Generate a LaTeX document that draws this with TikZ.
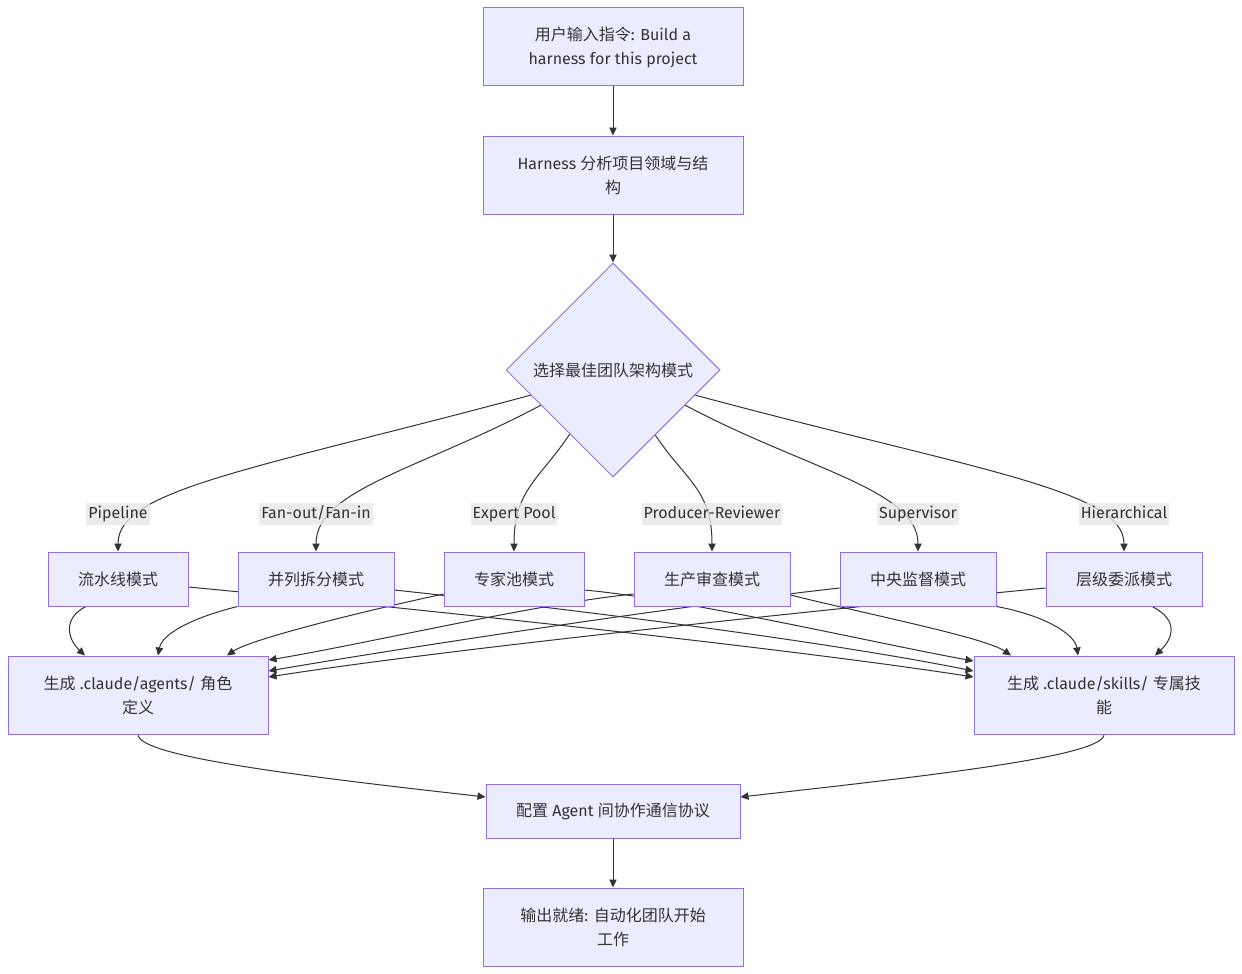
\documentclass[tikz,border=0pt]{standalone}
\usepackage{fontspec}
\setmainfont{Fira Sans}
\newfontfamily\zhfont{Noto Sans CJK SC}
\newcommand{\zh}[1]{{\zhfont #1}}
\usetikzlibrary{shapes.geometric,arrows.meta,calc}
\pgfdeclarelayer{bg}
\pgfsetlayers{bg,main}
\definecolor{nodefill}{HTML}{ECECFF}
\definecolor{nodeline}{HTML}{9370DB}
\definecolor{edgecol}{HTML}{333333}
\definecolor{lblbg}{HTML}{E8E8E8}
\begin{document}
\begin{tikzpicture}[x=0.75pt,y=-0.75pt,
  box/.style={draw=nodeline,fill=nodefill,line width=0.75pt,align=center,text=edgecol,inner sep=0pt,font=\fontsize{12pt}{18pt}\selectfont},
  wide/.style={box,minimum width=195pt,minimum height=58.5pt},
  pat/.style={box,minimum width=#1,minimum height=40.5pt},
  dec/.style={diamond,aspect=1,draw=nodeline,fill=nodefill,line width=0.75pt,minimum width=160.5pt,minimum height=160.5pt,inner sep=0pt,text=edgecol,font=\fontsize{12pt}{18pt}\selectfont},
  arr/.style={draw=edgecol,line width=0.75pt,-{Triangle[length=6pt,width=5.5pt]}},
  lbl/.style={fill=lblbg,fill opacity=0.8,text opacity=1,text=edgecol,inner xsep=1.5pt,inner ysep=2pt,text height=9pt,text depth=3pt,font=\fontsize{12pt}{14pt}\selectfont}
]
\useasboundingbox (0,0) rectangle (1242,974);
\begin{pgfonlayer}{bg}
\fill[white] (0,0) rectangle (1242,974);
\end{pgfonlayer}

% nodes
\node[wide] (n1) at (613,47) {\zh{用户输入指令}: Build a\\harness for this project};
\node[wide] (n2) at (613,175) {Harness \zh{分析项目领域与结}\\\zh{构}};
\node[dec] (dia) at (613,370) {\zh{选择最佳团队架构模式}};
\node[pat=105pt] (b1) at (118,579) {\zh{流水线模式}};
\node[pat=117pt] (b2) at (316,579) {\zh{并列拆分模式}};
\node[pat=105pt] (b3) at (514,579) {\zh{专家池模式}};
\node[pat=117pt] (b4) at (712,579) {\zh{生产审查模式}};
\node[pat=117pt] (b5) at (918,579) {\zh{中央监督模式}};
\node[pat=117pt] (b6) at (1124,579) {\zh{层级委派模式}};
\node[wide] (ag) at (138,695) {\zh{生成} .claude/agents/ \zh{角色}\\\zh{定义}};
\node[wide] (sk) at (1104,695) {\zh{生成} .claude/skills/ \zh{专属技}\\\zh{能}};
\node[box,minimum width=190.5pt,minimum height=40.5pt] (cfg) at (613,811) {\zh{配置} Agent \zh{间协作通信协议}};
\node[wide] (out) at (613,927) {\zh{输出就绪}: \zh{自动化团队开始}\\\zh{工作}};

% edges
\begin{pgfonlayer}{bg}
\draw[arr] (n1.south) -- (n2.north);
\draw[arr] (n2.south) -- (dia.north);
\draw[arr] (dia.197) .. controls +(-280,75) and +(0,-62) .. (b1.north);
\draw[arr] (dia.206) .. controls +(-120,64) and +(0,-62) .. (b2.north);
\draw[arr] (dia.236.5) .. controls +(-30,45) and +(0,-62) .. (b3.north);
\draw[arr] (dia.303.5) .. controls +(30,45) and +(0,-62) .. (b4.north);
\draw[arr] (dia.334) .. controls +(120,64) and +(0,-62) .. (b5.north);
\draw[arr] (dia.343) .. controls +(279,75) and +(0,-62) .. (b6.north);
% to agents
\draw[arr] ($(b1.south)+(-32,0)$) .. controls +(-24,12) and +(-17,-16) .. ($(ag.north)+(-53,0)$);
\draw[arr] (b2.south west) .. controls +(-48,12) and +(4,-21) .. ($(ag.north)+(20,0)$);
\draw[arr] ($(b3.west)+(0,15)$) .. controls +(-84,18) and +(23,-16) .. ($(ag.north)+(89,0)$);
\draw[arr] ($(b4.west)+(0,15)$) .. controls +(-99,10) and +(92,-15) .. ($(ag.east)+(0,-35)$);
\draw[arr] ($(b5.west)+(0,9)$) .. controls +(-160,18) and +(152,-26) .. ($(ag.east)+(0,-24)$);
\draw[arr] ($(b6.west)+(0,9)$) .. controls +(-246,24) and +(172,-27) .. ($(ag.east)+(0,-18)$);
% to skills
\draw[arr] ($(b1.east)+(0,8)$) .. controls +(262,25) and +(-174,-27) .. ($(sk.west)+(0,-18)$);
\draw[arr] ($(b2.east)+(0,11)$) .. controls +(166,18) and +(-154,-31) .. ($(sk.west)+(0,-24)$);
\draw[arr] ($(b3.east)+(0,11)$) .. controls +(106,10) and +(-104,-19) .. ($(sk.west)+(0,-34)$);
\draw[arr] ($(b4.east)+(0,16)$) .. controls +(80,20) and +(-26,-18) .. ($(sk.north)+(-93,0)$);
\draw[arr] (b5.south east) .. controls +(49,9) and +(-3,-21) .. ($(sk.north)+(-26,0)$);
\draw[arr] ($(b6.south)+(28,0)$) .. controls +(28,14) and +(17,-16) .. ($(sk.north)+(51,0)$);
% bottom
\draw[arr] (ag.south) .. controls +(0,22) and +(-186,-21) .. ($(cfg.west)+(0,-14)$);
\draw[arr] (sk.south) .. controls +(0,22) and +(186,-21) .. ($(cfg.east)+(0,-14)$);
\draw[arr] (cfg.south) -- (out.north);
\end{pgfonlayer}

% edge labels
\node[lbl] (l1) at (118,514) {Pipeline};
\node[lbl] (l2) at (316,514) {Fan-out/Fan-in};
\node[lbl] (l3) at (514,514) {Expert Pool};
\node[lbl] (l4) at (712,514) {Producer-Reviewer};
\node[lbl] (l5) at (918,514) {Supervisor};
\node[lbl] (l6) at (1124,514) {Hierarchical};
\end{tikzpicture}
\end{document}
